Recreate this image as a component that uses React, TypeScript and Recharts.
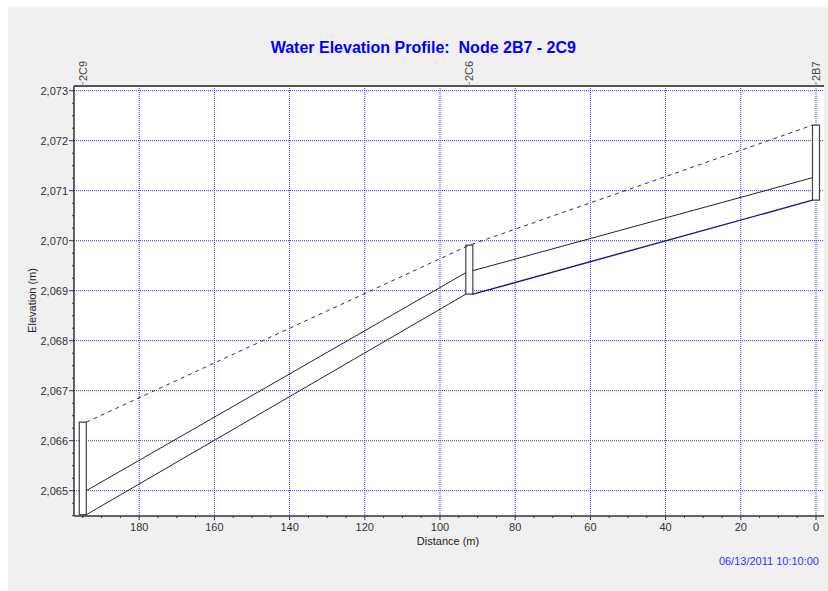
import { ComposedChart, Line, XAxis, YAxis, CartesianGrid, ReferenceArea } from "recharts";

// nodes along the profile (station = distance from 2B7, m)
const nodeNames = ["2C9", "2C6", "2B7"];
const nodeStations = [195.0, 92.2, 0];
const nodeTops = [2066.37, 2069.91, 2072.31];
const nodeInverts = [2064.52, 2068.93, 2070.81];

// pipes 2C9-2C6 and 2C6-2B7, value at left end / right end
const waterLeft = [2065.0, 2069.4];
const waterRight = [2069.36, 2071.26];
const invertLeft = [2064.52, 2068.93];
const invertRight = [2068.93, 2070.81];
const energyLine = [2066.37, 2069.91, 2072.31];

const xTicks = [
  0, 5, 10, 15, 20, 25, 30, 35, 40, 45, 50, 55, 60, 65, 70, 75, 80, 85, 90, 95,
  100, 105, 110, 115, 120, 125, 130, 135, 140, 145, 150, 155, 160, 165, 170, 175, 180, 185, 190, 195,
];
const xGrid = [0, 20, 40, 60, 80, 100, 120, 140, 160, 180];
const yTicks = [
  2064.5, 2064.75, 2065, 2065.25, 2065.5, 2065.75, 2066, 2066.25, 2066.5, 2066.75, 2067, 2067.25,
  2067.5, 2067.75, 2068, 2068.25, 2068.5, 2068.75, 2069, 2069.25, 2069.5, 2069.75, 2070, 2070.25,
  2070.5, 2070.75, 2071, 2071.25, 2071.5, 2071.75, 2072, 2072.25, 2072.5, 2072.75, 2073,
];
const yGrid = [2065, 2066, 2067, 2068, 2069, 2070, 2071, 2072, 2073];

const X_DOMAIN: [number, number] = [-2.13, 197.34];
const Y_DOMAIN: [number, number] = [2064.494, 2073.094];
const BOX = 0.93; // half width of node boxes, m
const FONT = "Arial, 'Liberation Sans', sans-serif";

const pipes = [0, 1].map((i) => ({
  water: [
    { x: nodeStations[i] - BOX, y: waterLeft[i] },
    { x: nodeStations[i + 1] + BOX, y: waterRight[i] },
  ],
  invert: [
    { x: nodeStations[i] - BOX, y: invertLeft[i] },
    { x: nodeStations[i + 1] + BOX, y: invertRight[i] },
  ],
}));

const energyData = [
  { x: nodeStations[0] - BOX, y: energyLine[0] },
  { x: nodeStations[1], y: energyLine[1] },
  { x: nodeStations[2] + BOX, y: energyLine[2] },
];

const XTick = (props: any) => {
  const { x, y, payload } = props;
  const v = payload.value;
  const major = v % 20 === 0;
  return (
    <g>
      <line x1={x} x2={x} y1={y} y2={y + (major ? 4 : 2)} stroke="#333" />
      {major && (
        <text x={x} y={y + 15} textAnchor="middle" fontSize={11} fill="#333" fontFamily={FONT}>
          {v}
        </text>
      )}
    </g>
  );
};

const YTick = (props: any) => {
  const { x, y, payload } = props;
  const v = payload.value;
  const major = Number.isInteger(v);
  return (
    <g>
      <line x1={x - (major ? 5 : 2)} x2={x} y1={y} y2={y} stroke="#333" />
      {major && (
        <text x={x - 6} y={y} dy="0.36em" textAnchor="end" fontSize={11} fill="#333" fontFamily={FONT}>
          {v.toLocaleString("en-US")}
        </text>
      )}
    </g>
  );
};

const NodeTick = (props: any) => {
  const { x, y, index } = props;
  return (
    <g>
      <line x1={x} x2={x} y1={y} y2={y - 4} stroke="#888" />
      <text
        transform={`translate(${x},${y - 5}) rotate(-90)`}
        dy="0.36em"
        textAnchor="start"
        fontSize={11}
        fill="#444"
        fontFamily={FONT}
      >
        {nodeNames[index]}
      </text>
    </g>
  );
};

export default function App() {
  return (
    <div style={{ position: "absolute", left: 0, top: 0, width: 828, height: 591, background: "#fff" }}>
      <div style={{ position: "absolute", left: 8, top: 7, width: 820, height: 584, background: "#f0f0f0" }} />
      <div style={{ position: "absolute", left: 0, top: 0 }}>
        <ComposedChart width={828} height={591} margin={{ top: 56, right: 4, bottom: 45, left: 14 }}>
          <CartesianGrid
            fill="#fff"
            fillOpacity={1}
            stroke="#2f2fff"
            strokeDasharray="1 1"
            horizontalValues={yGrid}
            verticalValues={xGrid}
          />
          <XAxis
            dataKey="x"
            type="number"
            domain={X_DOMAIN}
            reversed
            allowDataOverflow
            ticks={xTicks}
            interval={0}
            height={30}
            tickSize={0}
            tickMargin={0}
            tickLine={false}
            axisLine={{ stroke: "#333", strokeWidth: 1.5 }}
            tick={XTick}
          />
          <XAxis
            xAxisId="top"
            orientation="top"
            dataKey="x"
            type="number"
            domain={X_DOMAIN}
            reversed
            allowDataOverflow
            ticks={nodeStations}
            interval={0}
            height={30}
            tickSize={0}
            tickMargin={0}
            tickLine={false}
            axisLine={{ stroke: "#555", strokeWidth: 2 }}
            tick={NodeTick}
          />
          <YAxis
            type="number"
            domain={Y_DOMAIN}
            allowDataOverflow
            ticks={yTicks}
            interval={0}
            width={60}
            tickSize={0}
            tickMargin={0}
            tickLine={false}
            axisLine={{ stroke: "#333", strokeWidth: 1.5 }}
            tick={YTick}
          />
          <YAxis
            yAxisId="r"
            orientation="right"
            type="number"
            domain={Y_DOMAIN}
            allowDataOverflow
            width={0}
            tick={false}
            tickLine={false}
            axisLine={{ stroke: "#555", strokeWidth: 2 }}
          />
          {nodeNames.map((n, i) => (
            <ReferenceArea
              key={n}
              x1={nodeStations[i] + BOX}
              x2={nodeStations[i] - BOX}
              y1={nodeInverts[i]}
              y2={nodeTops[i]}
              fill="#fff"
              fillOpacity={1}
              stroke="#444"
              strokeWidth={1.2}
            />
          ))}
          <Line
            data={energyData}
            dataKey="y"
            type="linear"
            stroke="#333"
            strokeWidth={1}
            strokeDasharray="4 4"
            dot={false}
            isAnimationActive={false}
          />
          {pipes.map((p, i) => (
            <Line
              key={`w${i}`}
              data={p.water}
              dataKey="y"
              type="linear"
              stroke="#222"
              strokeWidth={1}
              dot={false}
              isAnimationActive={false}
            />
          ))}
          {pipes.map((p, i) => (
            <Line
              key={`i${i}`}
              data={p.invert}
              dataKey="y"
              type="linear"
              stroke={i === 1 ? "#16168c" : "#222"}
              strokeWidth={i === 1 ? 1.4 : 1}
              dot={false}
              isAnimationActive={false}
            />
          ))}
        </ComposedChart>
      </div>
      <svg width={828} height={591} style={{ position: "absolute", left: 0, top: 0, pointerEvents: "none" }}>
        <text
          x={423.3}
          y={53}
          textAnchor="middle"
          fontSize={16}
          fontWeight="bold"
          fill="#0000ff"
          fontFamily={FONT}
          style={{ whiteSpace: "pre" }}
        >
          {"Water Elevation Profile:  Node 2B7 - 2C9"}
        </text>
        <text transform="translate(36,300.5) rotate(-90)" textAnchor="middle" fontSize={11} fill="#222" fontFamily={FONT}>
          Elevation (m)
        </text>
        <text x={448} y={545} textAnchor="middle" fontSize={11} fill="#222" fontFamily={FONT}>
          Distance (m)
        </text>
        <text x={819} y={564.5} textAnchor="end" fontSize={11} fill="#3333ff" fontFamily={FONT}>
          06/13/2011 10:10:00
        </text>
      </svg>
    </div>
  );
}
